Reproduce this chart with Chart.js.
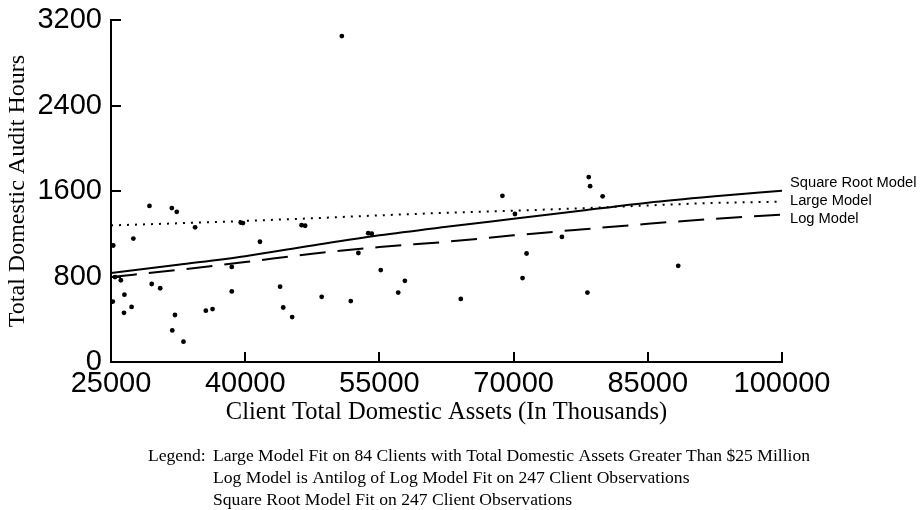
<!DOCTYPE html>
<html>
<head>
<meta charset="utf-8">
<script src="https://cdn.jsdelivr.net/npm/chart.js@4.4.0/dist/chart.umd.min.js"></script>
<style>
  html, body { margin: 0; padding: 0; background: #fff; }
  #wrap { width: 924px; height: 510px; }
</style>
</head>
<body>
<div id="wrap"><canvas id="audit-chart" width="924" height="510"></canvas></div>
<script>
// --- Client observations ---
const assetsK = [29300, 31800, 32350, 34400, 39500, 39750, 46300, 46700, 27500, 25250,
  41650, 53750, 54150, 38500, 52650, 55150, 57850, 29550, 30500, 43900,
  25450, 26100, 26500, 38500, 57100, 25200, 27300, 26450, 32150, 35600,
  36350, 44250, 45250, 31850, 33100, 50800, 68750, 70150, 71450, 71000,
  48550, 51800, 64100, 78400, 78550, 79950, 75400, 88400, 78250];
const auditHours = [1460, 1440, 1405, 1260, 1305, 1300, 1280, 1275, 1155, 1090,
  1125, 1205, 1200, 890, 1020, 860, 760, 730, 690, 705,
  795, 765, 630, 660, 650, 565, 515, 460, 440, 480,
  495, 510, 420, 295, 190, 3050, 1555, 1385, 1015, 785,
  610, 570, 590, 1730, 1645, 1550, 1170, 900, 650];

// --- Fitted model curves ---
const fitAssets  = [25000, 32500, 40000, 47500, 55000, 62500, 70000, 77500, 85000, 92500, 100000];
const sqrtModel  = [832, 910, 990, 1090, 1185, 1265, 1340, 1415, 1490, 1550, 1603];
const largeModel = [1278, 1298, 1320, 1345, 1372, 1396, 1416, 1438, 1465, 1488, 1500];
const logModel   = [795, 862, 935, 1013, 1075, 1125, 1185, 1240, 1293, 1340, 1380];

// --- Axes / text ---
const xTicks = [25000, 40000, 55000, 70000, 85000, 100000];
const yTicks = [0, 800, 1600, 2400, 3200];
const modelNames = ['Square Root Model', 'Large Model', 'Log Model'];
const legendLines = [
  'Large Model Fit on 84 Clients with Total Domestic Assets Greater Than $25 Million',
  'Log Model is Antilog of Log Model Fit on 247 Client Observations',
  'Square Root Model Fit on 247 Client Observations'
];

const SANS = '"Liberation Sans", Arial, Helvetica, sans-serif';
const SERIF = '"Liberation Serif", "Times New Roman", Times, serif';

function toPoints(xs, ys) {
  return xs.map((x, i) => ({ x: x, y: ys[i] }));
}

// inward tick marks, model labels at the right, legend note underneath
const annotations = {
  id: 'annotations',
  afterDraw(chart) {
    const { ctx, chartArea: a, scales: { x, y } } = chart;
    ctx.save();
    ctx.strokeStyle = '#000';
    ctx.lineWidth = 2;
    ctx.beginPath();
    xTicks.forEach(v => {
      const px = Math.round(x.getPixelForValue(v));
      ctx.moveTo(px, a.bottom);
      ctx.lineTo(px, a.bottom - 10);
    });
    yTicks.forEach(v => {
      const py = Math.round(y.getPixelForValue(v));
      ctx.moveTo(a.left, py);
      ctx.lineTo(a.left + 10, py);
    });
    ctx.stroke();

    ctx.fillStyle = '#000';
    ctx.textBaseline = 'middle';
    ctx.textAlign = 'left';
    ctx.font = '14.7px ' + SANS;
    const mid = y.getPixelForValue(largeModel[largeModel.length - 1]) - 1;
    modelNames.forEach((name, i) => ctx.fillText(name, a.right + 8, mid + (i - 1) * 18));

    ctx.font = '17.6px ' + SERIF;
    ctx.fillText('Legend:', 148, 456);
    legendLines.forEach((t, i) => ctx.fillText(t, 213, 456 + i * 22));
    ctx.restore();
  }
};

// keep the plot box fixed: no extra room for half-labels
function noLabelPadding(s) {
  s.paddingTop = 0; s.paddingBottom = 0; s.paddingLeft = 0; s.paddingRight = 0;
}

const lineStyle = { showLine: true, borderColor: '#000', borderWidth: 2, pointRadius: 0,
  fill: false, cubicInterpolationMode: 'monotone' };

new Chart(document.getElementById('audit-chart'), {
  type: 'scatter',
  data: {
    datasets: [
      { label: 'Clients', data: toPoints(assetsK, auditHours), pointRadius: 2.4,
        backgroundColor: '#000', borderColor: '#000', borderWidth: 0 },
      Object.assign({ label: modelNames[0], data: toPoints(fitAssets, sqrtModel) }, lineStyle),
      Object.assign({ label: modelNames[1], data: toPoints(fitAssets, largeModel),
        borderDash: [2, 6] }, lineStyle),
      Object.assign({ label: modelNames[2], data: toPoints(fitAssets, logModel),
        borderDash: [26, 12] }, lineStyle)
    ]
  },
  options: {
    responsive: false,
    animation: false,
    layout: { padding: { left: 0, right: 142, top: 20, bottom: 78 } },
    plugins: { legend: { display: false }, tooltip: { enabled: false } },
    scales: {
      x: {
        type: 'linear', min: 25000, max: 100000,
        afterBuildTicks: s => { s.ticks = xTicks.map(v => ({ value: v })); },
        afterFit: s => { s.height = 70; noLabelPadding(s); },
        grid: { display: false, drawTicks: false },
        border: { display: true, color: '#000', width: 2 },
        ticks: { color: '#000', font: { family: SANS, size: 29 }, padding: 5,
          maxRotation: 0, autoSkip: false, callback: v => String(v) },
        title: { display: true, text: 'Client Total Domestic Assets (In Thousands)', color: '#000',
          font: { family: SERIF, size: 24.5 }, padding: { top: 0, bottom: 5 } }
      },
      y: {
        min: 0, max: 3200,
        afterBuildTicks: s => { s.ticks = yTicks.map(v => ({ value: v })); },
        afterFit: s => { s.width = 111; noLabelPadding(s); },
        grid: { display: false, drawTicks: false },
        border: { display: true, color: '#000', width: 2 },
        ticks: { color: '#000', font: { family: SANS, size: 29 }, padding: 9,
          callback: v => String(v) },
        title: { display: true, text: 'Total Domestic Audit Hours', color: '#000',
          font: { family: SERIF, size: 24 }, padding: { top: 3, bottom: 0 } }
      }
    }
  },
  plugins: [annotations]
});
</script>
</body>
</html>
